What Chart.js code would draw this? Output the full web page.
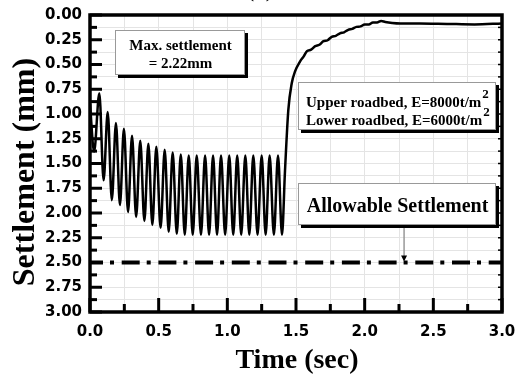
<!DOCTYPE html>
<html><head><meta charset="utf-8">
<script src="https://cdn.jsdelivr.net/npm/chart.js@4/dist/chart.umd.min.js"></script>
<style>html,body{margin:0;padding:0;background:#fff;}#wrap{width:516px;height:380px;}</style>
</head><body><div id="wrap"><canvas id="c" width="516" height="380"></canvas></div>
<script>
const startTime = [0.0, 0.03];
const startSettlement = [0.9, 1.38];
const peakTime = [0.068,0.129,0.189,0.247,0.306,0.366,0.425,0.483,0.544,0.602,0.661,0.719,0.777,0.838,0.896,0.954,1.014,1.072,1.131,1.189,1.250,1.308,1.369];
const peakSettlement = [0.79,0.98,1.09,1.15,1.22,1.27,1.30,1.33,1.36,1.39,1.41,1.42,1.42,1.42,1.42,1.42,1.42,1.42,1.42,1.42,1.42,1.42,1.42];
const troughTime = [0.099,0.159,0.218,0.277,0.336,0.396,0.454,0.514,0.573,0.632,0.690,0.748,0.808,0.867,0.925,0.984,1.043,1.101,1.160,1.220,1.279,1.339,1.398];
const troughSettlement = [1.67,1.87,1.92,1.99,2.04,2.08,2.12,2.15,2.19,2.21,2.22,2.22,2.22,2.22,2.22,2.22,2.22,2.22,2.22,2.22,2.22,2.22,2.22];
const recoveryTime = [1.420,1.444,1.469,1.493,1.529,1.555,1.58,1.61,1.64,1.67,1.70,1.73,1.76,1.79,1.82,1.85,1.88,1.91,1.94,1.97,2.00,2.03,2.06,2.09,2.12,2.15,2.20,2.26,2.40,2.60,2.80,3.00];
const recoverySettlement = [1.57,0.96,0.69,0.57,0.47,0.42,0.365,0.35,0.315,0.30,0.265,0.255,0.22,0.21,0.185,0.175,0.15,0.14,0.12,0.115,0.095,0.095,0.075,0.075,0.06,0.07,0.08,0.085,0.085,0.09,0.095,0.085];
const allowableTime = [0, 3];
const allowableSettlement = [2.5, 2.5];
const xTickLabels = ['0.0','0.5','1.0','1.5','2.0','2.5','3.0'];
const yTickLabels = ['0.00','0.25','0.50','0.75','1.00','1.25','1.50','1.75','2.00','2.25','2.50','2.75','3.00'];

const curve = [];
startTime.forEach((t,i)=>curve.push({x:t,y:startSettlement[i]}));
peakTime.forEach((t,i)=>{curve.push({x:t,y:peakSettlement[i]});curve.push({x:troughTime[i],y:troughSettlement[i]});});
recoveryTime.forEach((t,i)=>curve.push({x:t,y:recoverySettlement[i]}));
const allowable = allowableTime.map((t,i)=>({x:t,y:allowableSettlement[i]}));

function labelFor(list, v){
  const f = list.find(s => Math.abs(parseFloat(s) - v) < 1e-6);
  return f === undefined ? '' : f;
}

const SERIF = '"Liberation Serif","Times New Roman",serif';
function box(ctx,x0,y0,x1,y1){
  ctx.fillStyle='#000'; ctx.fillRect(x0+3,y0+3,x1-x0,y1-y0);
  ctx.fillStyle='#fff'; ctx.fillRect(x0,y0,x1-x0,y1-y0);
  ctx.strokeStyle='#999'; ctx.lineWidth=1; ctx.strokeRect(x0+0.5,y0+0.5,x1-x0-1,y1-y0-1);
}
function seg(ctx,x0,y0,x1,y1){ctx.beginPath();ctx.moveTo(x0,y0);ctx.lineTo(x1,y1);ctx.stroke();}

const deco = {
  id:'deco',
  afterDatasetsDraw(chart){
    const {ctx, chartArea:a, scales:{x,y}} = chart;
    ctx.save();
    ctx.strokeStyle='#000'; ctx.lineCap='butt';
    y.ticks.forEach(t=>{
      const py=y.getPixelForValue(t.value);
      const major = labelFor(yTickLabels,t.value)!=='';
      ctx.lineWidth=3; seg(ctx,a.left,py,a.left+(major?12:7),py);
      ctx.lineWidth=1.5; seg(ctx,a.right,py,a.right-4,py);
    });
    x.ticks.forEach(t=>{
      const px=x.getPixelForValue(t.value);
      const major = labelFor(xTickLabels,t.value)!=='';
      ctx.lineWidth=3; seg(ctx,px,a.bottom,px,a.bottom-(major?14:8));
    });
    ctx.lineWidth=3.5;
    ctx.strokeRect(a.left,a.top,a.right-a.left,a.bottom-a.top);

    ctx.textBaseline='alphabetic';
    box(ctx,115,30,245,75);
    ctx.fillStyle='#000'; ctx.font='bold 15px '+SERIF; ctx.textAlign='center';
    ctx.fillText('Max. settlement',180.5,50);
    ctx.fillText('= 2.22mm',180.5,68);

    box(ctx,298,82,496,130);
    ctx.fillStyle='#000'; ctx.textAlign='left'; ctx.font='bold 15px '+SERIF;
    const l1='Upper roadbed, E=8000t/m', l2='Lower roadbed, E=6000t/m';
    ctx.fillText(l1,306,106.5);
    ctx.fillText(l2,306,125);
    const w1=ctx.measureText(l1).width, w2=ctx.measureText(l2).width;
    ctx.font='bold 13px '+SERIF;
    ctx.fillText('2',306+w1+1,97.5);
    ctx.fillText('2',306+w2+1,116);

    box(ctx,298,183,496,225);
    ctx.fillStyle='#000'; ctx.textAlign='center'; ctx.font='bold 20px '+SERIF;
    ctx.fillText('Allowable Settlement',397.5,211.5);

    const ax=x.getPixelForValue(2.287), ay=y.getPixelForValue(2.5);
    ctx.lineWidth=1.5; seg(ctx,ax,228,ax,ay-5);
    ctx.beginPath(); ctx.moveTo(ax-3,ay-7); ctx.lineTo(ax+3,ay-7); ctx.lineTo(ax,ay-1); ctx.closePath(); ctx.fill();

    ctx.font='bold 28px '+SERIF; ctx.textAlign='center';
    ctx.fillText('Time (sec)',297,368);
    ctx.save(); ctx.translate(34,172); ctx.rotate(-Math.PI/2);
    ctx.font='bold 32px '+SERIF; ctx.fillText('Settlement (mm)',0,0);
    ctx.restore();
    ctx.font='bold 26px '+SERIF;
    ctx.fillText('(c)',260,-4);
    ctx.restore();
  }
};

new Chart(document.getElementById('c'),{
  type:'line',
  data:{datasets:[
    {data:curve,borderColor:'#000',borderWidth:2.5,pointRadius:0,cubicInterpolationMode:'monotone',fill:false},
    {data:allowable,borderColor:'#000',borderWidth:4,pointRadius:0,borderDash:[18,7,4,7.7],borderDashOffset:5,borderCapStyle:'butt',fill:false}
  ]},
  options:{
    responsive:false,animation:false,devicePixelRatio:1,
    layout:{padding:{left:0,top:15,right:14,bottom:0}},
    plugins:{legend:{display:false},tooltip:{enabled:false}},
    scales:{
      x:{type:'linear',min:0,max:3,
        afterFit(s){s.height=68;s.paddingLeft=0;s.paddingRight=0;},
        border:{display:false},
        grid:{color:'#e4e4e4',lineWidth:1,drawTicks:false},
        ticks:{stepSize:0.25,autoSkip:false,maxRotation:0,padding:11,color:'#000',
          font:{family:'"DejaVu Sans"',weight:'bold',size:15},
          callback:(v)=>labelFor(xTickLabels,v)}},
      y:{type:'linear',min:0,max:3,reverse:true,
        afterFit(s){s.width=90;s.paddingTop=0;s.paddingBottom=0;},
        border:{display:false},
        grid:{color:'#e4e4e4',lineWidth:1,drawTicks:false},
        ticks:{stepSize:0.125,autoSkip:false,padding:8,color:'#000',
          font:{family:'"DejaVu Sans"',weight:'bold',size:15},
          callback:(v)=>labelFor(yTickLabels,v)}}
    }
  },
  plugins:[deco]
});
</script></body></html>
